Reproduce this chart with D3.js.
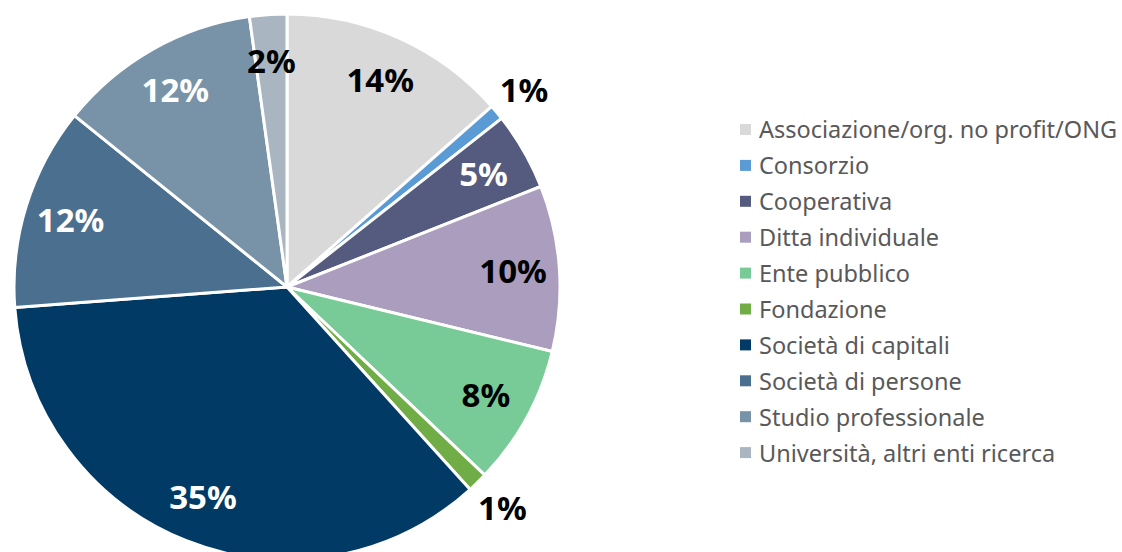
<!DOCTYPE html>
<html><head><meta charset="utf-8">
<script src="https://cdn.jsdelivr.net/npm/d3@7"></script>
<style>html,body{margin:0;padding:0;background:#fff;overflow:hidden}</style>
</head><body>
<svg id="chart" width="1122" height="552"></svg>
<script>
const categories = ["Associazione/org. no profit/ONG","Consorzio","Cooperativa","Ditta individuale","Ente pubblico","Fondazione","Società di capitali","Società di persone","Studio professionale","Università, altri enti ricerca"];
const values = [13.5, 0.9, 4.6, 9.8, 8.3, 1.2, 35.5, 12.0, 12.0, 2.2];
const labels = ["14%","1%","5%","10%","8%","1%","35%","12%","12%","2%"];
const colors = ["#d9d9d9","#5b9bd5","#555b7e","#ab9dbd","#78cb97","#70ad47","#003a65","#4a6f8f","#7893a7","#a9b6c1"];
const labelColors = ["#000","#000","#fff","#000","#000","#000","#fff","#fff","#fff","#000"];
const outside = [false,true,false,false,false,true,false,false,false,false];

const svg = d3.select("#chart");
const cx = 287, cy = 287, R = 273;
const g = svg.append("g").attr("transform",`translate(${cx},${cy})`);
const pie = d3.pie().sort(null).value(d=>d.v);
const data = pie(values.map((v,i)=>({v,i})));
const arc = d3.arc().innerRadius(0).outerRadius(R);
g.selectAll("path").data(data).join("path")
  .attr("d",arc).attr("fill",d=>colors[d.data.i])
  .attr("stroke","#fff").attr("stroke-width",3).attr("stroke-linejoin","round");

const inArc = d3.arc().innerRadius(R*0.83).outerRadius(R*0.83);
const outArc = d3.arc().innerRadius(R*1.13).outerRadius(R*1.13);
g.selectAll("text.lab").data(data).join("text").attr("class","lab")
  .attr("transform",d=>{const c=(outside[d.data.i]?outArc:inArc).centroid(d);return `translate(${c[0]},${c[1]})`;})
  .attr("text-anchor","middle").attr("dy","0.36em")
  .attr("font-family","'Noto Sans', sans-serif").attr("font-weight","bold").attr("font-size",33)
  .attr("fill",d=>labelColors[d.data.i]).text(d=>labels[d.data.i]);

const leg = svg.append("g").attr("transform","translate(740,130)");
const rows = leg.selectAll("g").data(categories).join("g").attr("transform",(d,i)=>`translate(0,${i*35.9})`);
rows.append("rect").attr("x",0).attr("y",-6).attr("width",11).attr("height",11).attr("fill",(d,i)=>colors[i]);
rows.append("text").attr("x",19).attr("y",0).attr("dy","0.36em")
  .attr("font-family","'Noto Sans', sans-serif").attr("font-size",23.5).attr("fill","#595959").text(d=>d);
</script>
</body></html>
